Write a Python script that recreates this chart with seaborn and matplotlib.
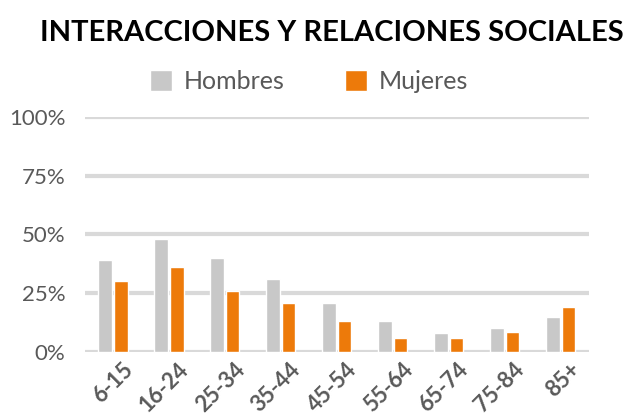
import matplotlib
matplotlib.use('Agg')
import matplotlib.pyplot as plt
import matplotlib.transforms as mtransforms
import seaborn as sns
import pandas as pd

# Datos
grupos = ['6-15', '16-24', '25-34', '35-44', '45-54', '55-64', '65-74', '75-84', '85+']
hombres = [39, 48, 40, 31, 21, 13, 8, 10, 15]
mujeres = [30, 36, 26, 21, 13, 6, 6, 8.5, 19]
series = ['Hombres', 'Mujeres']
colores = ['#c8c8c8', '#ed7a0a']
yticks = [0, 25, 50, 75, 100]
ytick_labels = ['0%', '25%', '50%', '75%', '100%']

df = pd.DataFrame({'grupo': grupos * 2,
                   'sexo': ['Hombres'] * len(grupos) + ['Mujeres'] * len(grupos),
                   'valor': hombres + mujeres})

sns.set_style('white')
plt.rcParams['font.family'] = ['Lato', 'DejaVu Sans']

fig = plt.figure(figsize=(6.29, 4.16), dpi=100)
ax = fig.add_axes([0.135, 0.154, 0.801, 0.565])

sns.barplot(data=df, x='grupo', y='valor', hue='sexo', hue_order=series,
            palette=colores, width=0.55, gap=0.1, saturation=1, ax=ax)

ax.set_ylim(0, 100)
ax.set_xlim(-0.5, len(grupos) - 0.5)
ax.set_yticks(yticks)
ax.set_yticklabels(ytick_labels, fontsize=16, color='#595959')
ax.yaxis.grid(True, color='#d9d9d9', linewidth=3)
ax.set_axisbelow(True)
for s in ax.spines.values():
    s.set_visible(False)
ax.tick_params(axis='both', length=0)
ax.tick_params(axis='y', pad=14)
ax.tick_params(axis='x', pad=5)
desplaza = mtransforms.ScaledTranslation(9 / 100, 0, fig.dpi_scale_trans)
for lbl in ax.get_xticklabels():
    lbl.set_rotation(45)
    lbl.set_ha('right')
    lbl.set_rotation_mode('anchor')
    lbl.set_fontsize(16)
    lbl.set_fontweight('bold')
    lbl.set_color('#595959')
    lbl.set_transform(lbl.get_transform() + desplaza)
ax.set_xlabel('')
ax.set_ylabel('')

# leyenda arriba
handles, labels = ax.get_legend_handles_labels()
ax.legend(handles, labels, loc='center', bbox_to_anchor=(0.491, 0.803),
          bbox_transform=fig.transFigure, ncol=2, frameon=False,
          fontsize=18, labelcolor='#595959', handlelength=0.9, handleheight=0.9,
          columnspacing=2.4, handletextpad=0.45)

fig.text(0.527, 0.92, 'INTERACCIONES Y RELACIONES SOCIALES', ha='center', va='center',
         fontsize=21, fontweight='bold', color='black')

fig.savefig('out.png', dpi=100)
